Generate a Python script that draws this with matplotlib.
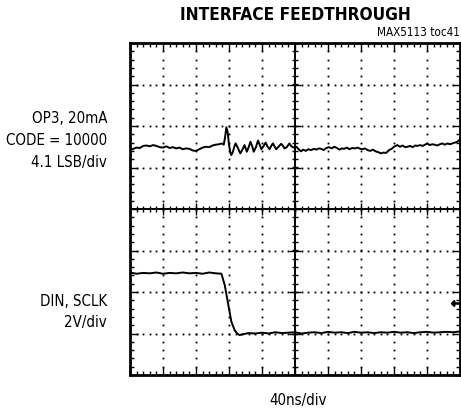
import numpy as np
import matplotlib.pyplot as plt

# scope traces, in screen divisions (x: 0..10, y: -4..4)
top_x = [0.0, 0.1, 0.2, 0.3, 0.4, 0.5, 0.6, 0.7, 0.8, 0.9, 1.0, 1.1, 1.2, 1.3, 1.4,
         1.5, 1.6, 1.7, 1.8, 1.9, 2.0, 2.1, 2.2, 2.3, 2.4, 2.5, 2.6, 2.7, 2.78, 2.84,
         2.88, 2.92, 2.96, 3.0, 3.04, 3.07, 3.12, 3.16, 3.2, 3.27, 3.34, 3.4, 3.47,
         3.54, 3.6, 3.65, 3.7, 3.75, 3.82, 3.88, 3.93, 3.98, 4.05, 4.11, 4.17, 4.23,
         4.28, 4.33, 4.38, 4.43, 4.5, 4.58, 4.63, 4.68, 4.75, 4.83, 4.88, 4.93, 5.0,
         5.04, 5.1, 5.18, 5.25, 5.33, 5.4, 5.49, 5.57, 5.65, 5.72, 5.79, 5.87, 5.95,
         6.03, 6.11, 6.19, 6.27, 6.35, 6.42, 6.49, 6.57, 6.65, 6.73, 6.81, 6.9, 6.98,
         7.05, 7.12, 7.2, 7.28, 7.36, 7.44, 7.52, 7.6, 7.68, 7.76, 7.85, 7.93, 8.0,
         8.1, 8.18, 8.26, 8.34, 8.41, 8.49, 8.57, 8.64, 8.71, 8.79, 8.87, 8.94, 9.01,
         9.08, 9.16, 9.23, 9.31, 9.39, 9.46, 9.54, 9.62, 9.7, 9.77, 9.85, 9.92, 10.0]
top_y = [1.42, 1.45, 1.48, 1.47, 1.52, 1.53, 1.51, 1.54, 1.52, 1.49, 1.48, 1.51, 1.47,
         1.49, 1.46, 1.48, 1.44, 1.46, 1.45, 1.41, 1.40, 1.44, 1.48, 1.50, 1.49, 1.53,
         1.55, 1.56, 1.58, 1.55, 1.72, 1.97, 1.85, 1.55, 1.36, 1.30, 1.38, 1.50, 1.58,
         1.47, 1.34, 1.42, 1.54, 1.38, 1.50, 1.62, 1.52, 1.38, 1.50, 1.65, 1.55, 1.44,
         1.52, 1.60, 1.50, 1.44, 1.52, 1.58, 1.51, 1.44, 1.50, 1.57, 1.53, 1.46, 1.49,
         1.58, 1.52, 1.49, 1.47, 1.50, 1.45, 1.39, 1.43, 1.40, 1.44, 1.42, 1.45, 1.43,
         1.46, 1.45, 1.42, 1.47, 1.49, 1.46, 1.50, 1.47, 1.43, 1.46, 1.45, 1.48, 1.44,
         1.47, 1.46, 1.48, 1.45, 1.44, 1.46, 1.42, 1.40, 1.43, 1.39, 1.37, 1.34, 1.36,
         1.35, 1.42, 1.45, 1.50, 1.54, 1.50, 1.53, 1.49, 1.50, 1.52, 1.49, 1.53, 1.52,
         1.54, 1.52, 1.55, 1.58, 1.54, 1.56, 1.55, 1.53, 1.56, 1.58, 1.55, 1.58, 1.56,
         1.58, 1.60, 1.62, 1.68]

bot_x = [0.0, 0.2, 0.4, 0.6, 0.8, 1.0, 1.2, 1.4, 1.6, 1.8, 2.0, 2.2, 2.4, 2.6, 2.77,
         2.87, 2.97, 3.07, 3.17, 3.25, 3.32, 3.4, 3.47, 3.6, 3.8, 4.0, 4.2, 4.4, 4.6,
         4.8, 5.0, 5.2, 5.4, 5.6, 5.8, 6.0, 6.2, 6.4, 6.6, 6.8, 7.0, 7.2, 7.4, 7.6,
         7.8, 8.0, 8.2, 8.4, 8.6, 8.8, 9.0, 9.2, 9.4, 9.6, 9.8, 10.0]
bot_y = [-1.53, -1.56, -1.54, -1.55, -1.53, -1.56, -1.54, -1.55, -1.53, -1.55, -1.54,
         -1.56, -1.53, -1.55, -1.56, -1.83, -2.27, -2.71, -2.92, -3.0, -3.04, -3.02,
         -3.01, -2.99, -3.0, -2.98, -3.0, -2.97, -2.99, -2.98, -2.97, -3.0, -2.98,
         -2.97, -2.99, -2.96, -2.98, -2.97, -2.99, -2.96, -2.98, -2.97, -2.99, -2.97,
         -2.98, -2.96, -2.98, -2.97, -2.99, -2.97, -2.96, -2.98, -2.97, -2.96, -2.97,
         -2.95]

ground_x = 9.88
ground_y = -2.26

fig = plt.figure(figsize=(4.61, 4.09), dpi=100)
ax = fig.add_axes([130 / 461, 1 - 375 / 409, 330 / 461, 332 / 409])
ax.set_xlim(0, 10)
ax.set_ylim(-4, 4)

# dotted graticule
for gx in range(1, 10):
    if gx == 5:
        continue
    ys = np.arange(-4, 4.01, 0.2)
    ax.plot(np.full_like(ys, gx), ys, ls='none', marker='s', ms=1.3, color='black',
            mec='none')
for gy in range(-3, 4):
    if gy == 0:
        continue
    xs = np.arange(0, 10.01, 0.2)
    ax.plot(xs, np.full_like(xs, gy), ls='none', marker='s', ms=1.3, color='black',
            mec='none')

# centre cross with ticks
ax.axhline(0, color='black', lw=1.4)
ax.axvline(5, color='black', lw=1.4)
xt = np.arange(0, 10.01, 0.2)
ax.vlines(xt, -0.08, 0.08, color='black', lw=1.0)
ax.vlines(np.arange(0, 11), -0.14, 0.14, color='black', lw=1.0)
yt = np.arange(-4, 4.01, 0.2)
ax.hlines(yt, 5 - 0.1, 5 + 0.1, color='black', lw=1.0)
ax.hlines(np.arange(-4, 5), 5 - 0.17, 5 + 0.17, color='black', lw=1.0)

# traces
ax.plot(top_x, top_y, color='black', lw=1.4)
ax.plot(bot_x, bot_y, color='black', lw=1.4)
ax.plot(ground_x, ground_y, marker='$\\leftarrow$', ms=7, color='black')

ax.set_xticks(np.arange(0, 11))
ax.set_yticks(np.arange(-4, 5))
ax.set_xticks(xt, minor=True)
ax.set_yticks(yt, minor=True)
ax.tick_params(which='both', direction='in', top=True, right=True,
               labelbottom=False, labelleft=False, width=1.0)
ax.tick_params(which='major', length=6)
ax.tick_params(which='minor', length=3)
for s in ax.spines.values():
    s.set_linewidth(2)

lab = dict(family='DejaVu Sans', fontstretch='condensed', fontsize=10.8)

fig.text(295 / 461, 1 - 15 / 409, 'INTERFACE FEEDTHROUGH', ha='center', va='center',
         fontsize=12.4, fontweight='heavy', family='DejaVu Sans',
         fontstretch='condensed')
fig.text(460 / 461, 1 - 33 / 409, 'MAX5113 toc41', ha='right', va='center',
         fontsize=8.4, family='DejaVu Sans', fontstretch='condensed')

left_lines = ['OP3, 20mA', 'CODE = 10000', '4.1 LSB/div']
left_base = [122.7, 145.3, 167.3]
for txt, b in zip(left_lines, left_base):
    fig.text(107 / 461, 1 - b / 409, txt, ha='right', va='baseline', **lab)
for txt, b in zip(['DIN, SCLK', '2V/div'], [306, 327.3]):
    fig.text(107 / 461, 1 - b / 409, txt, ha='right', va='baseline', **lab)
fig.text(298 / 461, 1 - 405 / 409, '40ns/div', ha='center', va='baseline', **lab)

fig.savefig('out.png', dpi=100)
